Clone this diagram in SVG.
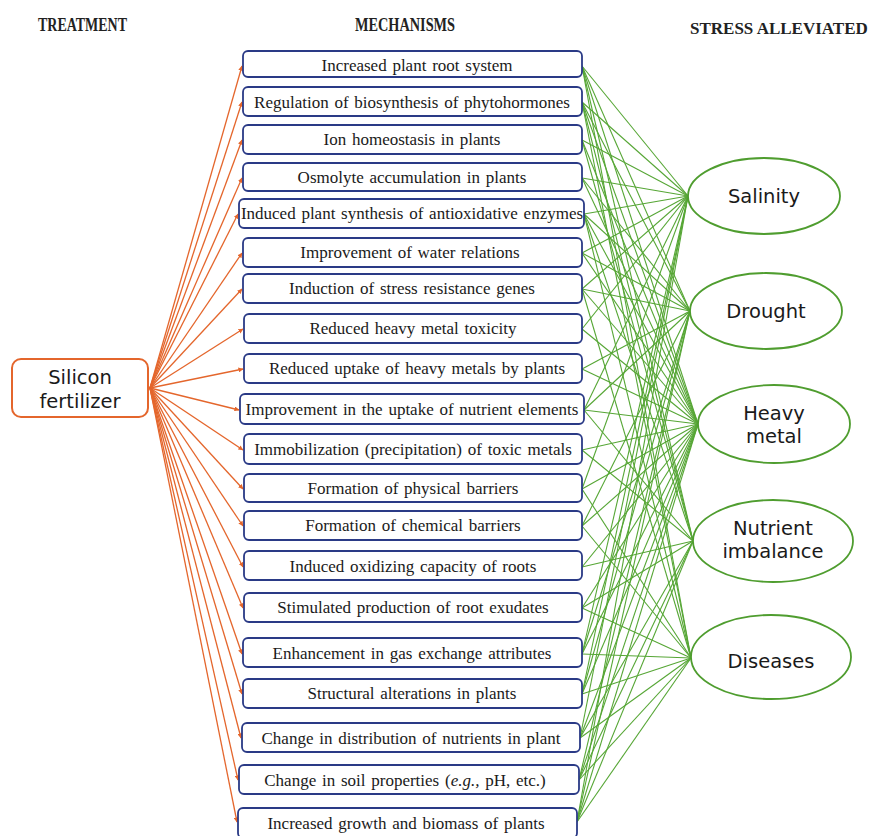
<svg xmlns="http://www.w3.org/2000/svg" width="873" height="836" viewBox="0 0 873 836">
<defs>
<marker id="oa" viewBox="0 0 6 6" refX="5.5" refY="3" markerWidth="5" markerHeight="5" orient="auto" markerUnits="userSpaceOnUse"><path d="M0,0 L6,3 L0,6 z" fill="#e4662c"/></marker>
</defs>
<style>
.hd{font-family:"Liberation Serif","Times New Roman",serif;font-weight:bold;font-size:19px;fill:#222}
.mb rect{fill:#fff;stroke:#2a3a86;stroke-width:1.8}
.mb text{font-family:"Liberation Serif","Times New Roman",serif;font-size:17px;word-spacing:1.5px;fill:#1a1a1a;text-anchor:middle}
.st ellipse{fill:#fff;stroke:#4f9d2f;stroke-width:1.8}
.st text,.tr text{font-family:"DejaVu Sans",Verdana,sans-serif;font-size:19.5px;fill:#1a1a1a;text-anchor:middle}
.tr rect{fill:#fff;stroke:#e4662c;stroke-width:2}
.og line{stroke:#e4662c;stroke-width:1.3}
.gr line{stroke:#56a635;stroke-width:1.1}
</style>
<rect width="873" height="836" fill="#fff"/>
<text class="hd" x="38" y="31" textLength="89" lengthAdjust="spacingAndGlyphs">TREATMENT</text>
<text class="hd" x="355" y="31" textLength="100" lengthAdjust="spacingAndGlyphs">MECHANISMS</text>
<text class="hd" x="690" y="34" style="font-size:17px">STRESS ALLEVIATED</text>

<g id="connectors">
<g class="og" id="orange-links">
<line x1="150" y1="388" x2="242" y2="66" marker-end="url(#oa)"/>
<line x1="150" y1="388" x2="242" y2="102" marker-end="url(#oa)"/>
<line x1="150" y1="388" x2="242" y2="140" marker-end="url(#oa)"/>
<line x1="150" y1="388" x2="242" y2="178" marker-end="url(#oa)"/>
<line x1="150" y1="388" x2="238" y2="214" marker-end="url(#oa)"/>
<line x1="150" y1="388" x2="242" y2="253" marker-end="url(#oa)"/>
<line x1="150" y1="388" x2="242" y2="289" marker-end="url(#oa)"/>
<line x1="150" y1="388" x2="243" y2="329" marker-end="url(#oa)"/>
<line x1="150" y1="388" x2="243" y2="369" marker-end="url(#oa)"/>
<line x1="150" y1="388" x2="239" y2="410" marker-end="url(#oa)"/>
<line x1="150" y1="388" x2="243" y2="450" marker-end="url(#oa)"/>
<line x1="150" y1="388" x2="243" y2="489" marker-end="url(#oa)"/>
<line x1="150" y1="388" x2="243" y2="526" marker-end="url(#oa)"/>
<line x1="150" y1="388" x2="243" y2="567" marker-end="url(#oa)"/>
<line x1="150" y1="388" x2="243" y2="608" marker-end="url(#oa)"/>
<line x1="150" y1="388" x2="242" y2="654" marker-end="url(#oa)"/>
<line x1="150" y1="388" x2="242" y2="694" marker-end="url(#oa)"/>
<line x1="150" y1="388" x2="241" y2="738" marker-end="url(#oa)"/>
<line x1="150" y1="388" x2="238" y2="780" marker-end="url(#oa)"/>
<line x1="150" y1="388" x2="237" y2="822" marker-end="url(#oa)"/>
</g>
<g class="gr" id="green-links">
<line x1="582" y1="66" x2="688" y2="196"/><line x1="582" y1="66" x2="690" y2="311"/><line x1="582" y1="66" x2="698" y2="424"/><line x1="582" y1="66" x2="693" y2="541"/><line x1="582" y1="66" x2="691" y2="658"/>
<line x1="582" y1="102" x2="688" y2="196"/><line x1="582" y1="102" x2="690" y2="311"/><line x1="582" y1="102" x2="698" y2="424"/><line x1="582" y1="102" x2="693" y2="541"/><line x1="582" y1="102" x2="691" y2="658"/>
<line x1="582" y1="140" x2="688" y2="196"/><line x1="582" y1="140" x2="698" y2="424"/><line x1="582" y1="140" x2="693" y2="541"/>
<line x1="582" y1="178" x2="688" y2="196"/><line x1="582" y1="178" x2="690" y2="311"/><line x1="582" y1="178" x2="698" y2="424"/>
<line x1="584" y1="214" x2="688" y2="196"/><line x1="584" y1="214" x2="690" y2="311"/><line x1="584" y1="214" x2="698" y2="424"/><line x1="584" y1="214" x2="693" y2="541"/><line x1="584" y1="214" x2="691" y2="658"/>
<line x1="582" y1="253" x2="688" y2="196"/><line x1="582" y1="253" x2="690" y2="311"/><line x1="582" y1="253" x2="698" y2="424"/>
<line x1="582" y1="289" x2="688" y2="196"/><line x1="582" y1="289" x2="690" y2="311"/><line x1="582" y1="289" x2="698" y2="424"/><line x1="582" y1="289" x2="691" y2="658"/>
<line x1="582" y1="329" x2="698" y2="424"/><line x1="582" y1="329" x2="688" y2="196"/>
<line x1="582" y1="369" x2="698" y2="424"/><line x1="582" y1="369" x2="690" y2="311"/>
<line x1="584" y1="410" x2="688" y2="196"/><line x1="584" y1="410" x2="690" y2="311"/><line x1="584" y1="410" x2="698" y2="424"/><line x1="584" y1="410" x2="693" y2="541"/>
<line x1="582" y1="450" x2="698" y2="424"/><line x1="582" y1="450" x2="693" y2="541"/>
<line x1="582" y1="489" x2="688" y2="196"/><line x1="582" y1="489" x2="698" y2="424"/><line x1="582" y1="489" x2="691" y2="658"/>
<line x1="582" y1="526" x2="690" y2="311"/><line x1="582" y1="526" x2="698" y2="424"/><line x1="582" y1="526" x2="691" y2="658"/>
<line x1="582" y1="567" x2="698" y2="424"/><line x1="582" y1="567" x2="693" y2="541"/>
<line x1="582" y1="608" x2="698" y2="424"/><line x1="582" y1="608" x2="693" y2="541"/><line x1="582" y1="608" x2="691" y2="658"/>
<line x1="582" y1="654" x2="688" y2="196"/><line x1="582" y1="654" x2="690" y2="311"/><line x1="582" y1="654" x2="698" y2="424"/><line x1="582" y1="654" x2="691" y2="658"/>
<line x1="582" y1="694" x2="688" y2="196"/><line x1="582" y1="694" x2="690" y2="311"/><line x1="582" y1="694" x2="698" y2="424"/><line x1="582" y1="694" x2="691" y2="658"/>
<line x1="580" y1="738" x2="688" y2="196"/><line x1="580" y1="738" x2="698" y2="424"/><line x1="580" y1="738" x2="693" y2="541"/><line x1="580" y1="738" x2="691" y2="658"/>
<line x1="579" y1="780" x2="690" y2="311"/><line x1="579" y1="780" x2="698" y2="424"/><line x1="579" y1="780" x2="693" y2="541"/><line x1="579" y1="780" x2="691" y2="658"/>
<line x1="577" y1="822" x2="688" y2="196"/><line x1="577" y1="822" x2="690" y2="311"/><line x1="577" y1="822" x2="698" y2="424"/><line x1="577" y1="822" x2="693" y2="541"/><line x1="577" y1="822" x2="691" y2="658"/>
</g>
</g>

<g id="silicon-fertilizer" class="tr">
<rect x="12" y="359" width="136" height="58" rx="9"/>
<text x="80" y="384">Silicon</text>
<text x="80" y="408">fertilizer</text>
</g>

<g id="m1" class="mb"><rect x="243" y="51" width="339" height="26" rx="5"/><text x="417" y="71">Increased plant root system</text></g>
<g id="m2" class="mb"><rect x="243" y="87" width="339" height="29" rx="5"/><text x="412" y="108">Regulation of biosynthesis of phytohormones</text></g>
<g id="m3" class="mb"><rect x="243" y="125" width="339" height="29" rx="5"/><text x="412" y="145">Ion homeostasis in plants</text></g>
<g id="m4" class="mb"><rect x="243" y="163" width="339" height="28" rx="5"/><text x="412" y="183">Osmolyte accumulation in plants</text></g>
<g id="m5" class="mb"><rect x="239" y="199" width="345" height="29" rx="5"/><text x="412" y="219">Induced plant synthesis of antioxidative enzymes</text></g>
<g id="m6" class="mb"><rect x="243" y="238" width="339" height="29" rx="5"/><text x="410" y="258">Improvement of water relations</text></g>
<g id="m7" class="mb"><rect x="243" y="274" width="339" height="29" rx="5"/><text x="412" y="294">Induction of stress resistance genes</text></g>
<g id="m8" class="mb"><rect x="244" y="314" width="338" height="29" rx="5"/><text x="413" y="334">Reduced heavy metal toxicity</text></g>
<g id="m9" class="mb"><rect x="244" y="354" width="338" height="29" rx="5"/><text x="417" y="374">Reduced uptake of heavy metals by plants</text></g>
<g id="m10" class="mb"><rect x="240" y="394" width="344" height="30" rx="5"/><text x="412" y="415">Improvement in the uptake of nutrient elements</text></g>
<g id="m11" class="mb"><rect x="244" y="434" width="338" height="30" rx="5"/><text x="413" y="455">Immobilization (precipitation) of toxic metals</text></g>
<g id="m12" class="mb"><rect x="244" y="474" width="338" height="28" rx="5"/><text x="413" y="494">Formation of physical barriers</text></g>
<g id="m13" class="mb"><rect x="244" y="511" width="338" height="29" rx="5"/><text x="413" y="531">Formation of chemical barriers</text></g>
<g id="m14" class="mb"><rect x="244" y="551" width="338" height="29" rx="5"/><text x="413" y="572">Induced oxidizing capacity of roots</text></g>
<g id="m15" class="mb"><rect x="244" y="593" width="338" height="29" rx="5"/><text x="413" y="613">Stimulated production of root exudates</text></g>
<g id="m16" class="mb"><rect x="243" y="638" width="339" height="29" rx="5"/><text x="412" y="659">Enhancement in gas exchange attributes</text></g>
<g id="m17" class="mb"><rect x="243" y="679" width="339" height="29" rx="5"/><text x="412" y="699">Structural alterations in plants</text></g>
<g id="m18" class="mb"><rect x="242" y="723" width="338" height="29" rx="5"/><text x="411" y="744">Change in distribution of nutrients in plant</text></g>
<g id="m19" class="mb"><rect x="239" y="765" width="340" height="29" rx="5"/><text x="405" y="786">Change in soil properties (<tspan font-style="italic">e.g.,</tspan> pH,  etc.)</text></g>
<g id="m20" class="mb"><rect x="238" y="808" width="339" height="30" rx="5"/><text x="406" y="829">Increased growth and biomass of plants</text></g>

<g id="salinity" class="st"><ellipse cx="764" cy="196" rx="76" ry="38"/><text x="764" y="203">Salinity</text></g>
<g id="drought" class="st"><ellipse cx="766" cy="311" rx="76" ry="38"/><text x="766" y="318">Drought</text></g>
<g id="heavy-metal" class="st"><ellipse cx="774" cy="424" rx="76" ry="39"/><text x="774" y="420">Heavy</text><text x="774" y="443">metal</text></g>
<g id="nutrient-imbalance" class="st"><ellipse cx="773" cy="541" rx="80" ry="41"/><text x="773" y="535">Nutrient</text><text x="773" y="558">imbalance</text></g>
<g id="diseases" class="st"><ellipse cx="771" cy="657" rx="80" ry="42"/><text x="771" y="668">Diseases</text></g>
</svg>
